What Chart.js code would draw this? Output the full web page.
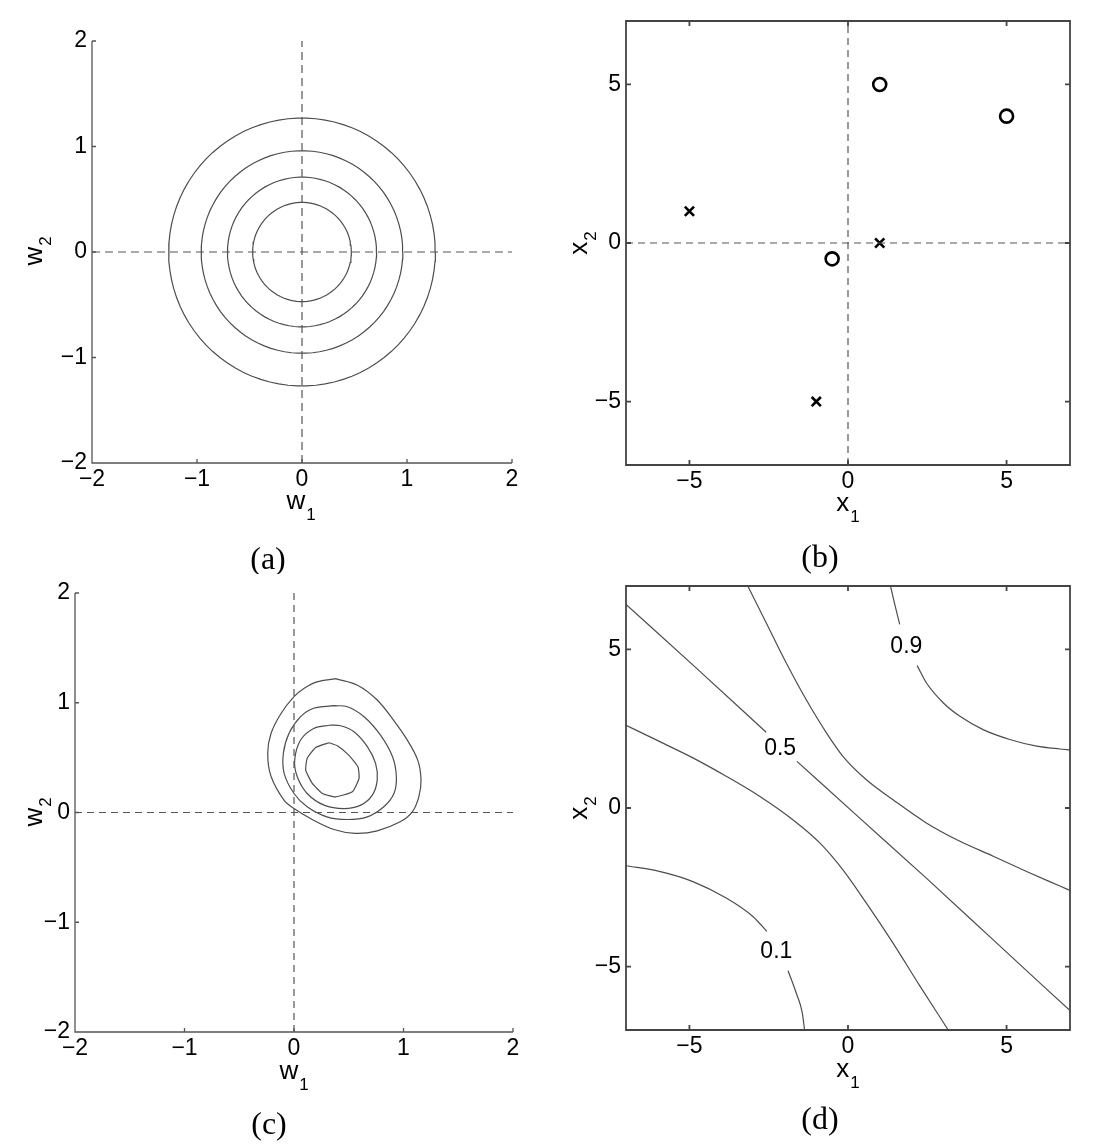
<!DOCTYPE html>
<html><head><meta charset="utf-8"><title>Prior, data, posterior and predictive distribution</title>
<script src="https://cdn.jsdelivr.net/npm/chart.js@4.4.1/dist/chart.umd.min.js"></script>
<style>
html,body{margin:0;padding:0;background:#fff;}
#fig{position:relative;width:1104px;height:1148px;background:#fff;overflow:hidden;}
#fig canvas{position:absolute;}
</style></head><body>
<div id="fig">
<canvas id="pa" width="552" height="574" style="left:0;top:0"></canvas>
<canvas id="pb" width="552" height="574" style="left:552px;top:0"></canvas>
<canvas id="pc" width="552" height="574" style="left:0;top:574px"></canvas>
<canvas id="pd" width="552" height="574" style="left:552px;top:574px"></canvas>
</div>
<script>
// ---------------- data ----------------
// (a) prior: circular contours (radii)
const wTicks = [-2, -1, 0, 1, 2];
const aContourRadii = [0.47, 0.71, 0.96, 1.27];
// (b) training data
const xTicks = [-5, 0, 5];
const bCircleX = [1, 5, -0.5];
const bCircleY = [5, 4, -0.5];
const bCrossX = [-5, 1, -1];
const bCrossY = [1, 0, -5];
// (c) posterior contours [w1, w2]
const cContour1 = [[0.38,1.22],[0.58,1.16],[0.76,1.025],[0.91,0.84],[1.035,0.66],[1.13,0.477],[1.16,0.295],[1.14,0.143],[1.08,0.006],[0.97,-0.085],[0.76,-0.167],[0.56,-0.19],[0.365,-0.155],[0.15,-0.055],[0,0.036],[-0.09,0.11],[-0.21,0.33],[-0.24,0.54],[-0.21,0.72],[-0.12,0.90],[0,1.055],[0.09,1.13],[0.21,1.19],[0.38,1.22]];
const cContour2 = [[0.365,0.973],[0.487,0.964],[0.64,0.873],[0.79,0.705],[0.90,0.508],[0.935,0.325],[0.913,0.173],[0.82,0.052],[0.67,-0.04],[0.487,-0.064],[0.30,-0.04],[0.12,0.052],[0,0.173],[-0.09,0.356],[-0.097,0.54],[-0.046,0.72],[0.06,0.873],[0.18,0.95],[0.365,0.973]];
const cContour3 = [[0.335,0.797],[0.426,0.79],[0.548,0.736],[0.67,0.60],[0.745,0.447],[0.76,0.295],[0.715,0.158],[0.61,0.067],[0.457,0.036],[0.274,0.067],[0.12,0.173],[0.03,0.325],[0.006,0.477],[0.06,0.66],[0.18,0.766],[0.335,0.797]];
const cContour4 = [[0.32,0.636],[0.396,0.608],[0.50,0.523],[0.584,0.417],[0.594,0.31],[0.533,0.189],[0.38,0.143],[0.26,0.173],[0.167,0.265],[0.107,0.386],[0.12,0.493],[0.198,0.593],[0.32,0.636]];
// (d) predictive contours [x1, x2] (gaps where labels sit)
const d09a = [[1.34,7],[1.48,6.4],[1.63,5.79]];
const d09b = [[2.18,4.49],[2.47,3.95],[3.0,3.32],[3.53,2.89],[4.26,2.47],[5.1,2.16],[5.95,1.95],[6.68,1.86],[7,1.83]];
const d07 = [[-3.16,7],[-2.58,5.84],[-1.95,4.58],[-1.32,3.42],[-0.68,2.37],[-0.16,1.63],[0.58,0.89],[1.42,0.26],[2.47,-0.47],[3.53,-1.05],[4.58,-1.52],[5.63,-2.0],[6.68,-2.46],[7,-2.6]];
const d05a = [[-7,6.42],[-4.79,4.42],[-2.58,2.39]];
const d05b = [[-1.61,1.47],[0.37,-0.32],[2.47,-2.21],[4.58,-4.16],[7,-6.39]];
const d03 = [[-7,2.61],[-5.95,2.1],[-4.89,1.58],[-3.84,1.0],[-2.79,0.37],[-1.74,-0.37],[-0.89,-1.1],[-0.16,-1.95],[0.58,-3.0],[1.42,-4.26],[2.26,-5.6],[3.16,-7]];
const d01a = [[-7,-1.82],[-5.95,-2.0],[-4.89,-2.32],[-3.84,-2.84],[-3.0,-3.42],[-2.56,-3.89]];
const d01b = [[-1.89,-5.13],[-1.63,-5.84],[-1.44,-6.47],[-1.37,-7]];
const dLabelText = ['0.9', '0.5', '0.1'];
const dLabelX = [1.84, -2.14, -2.26];
const dLabelY = [5.08, 1.87, -4.53];

// ---------------- style ----------------
const FONT = '"Liberation Sans", Arial, Helvetica, sans-serif';
const SERIF = '"Liberation Serif", "DejaVu Serif", serif';
const LINE = '#4d4d4d';
const TXT = '#000';
const AXW = 60, AXH = 40, CW = 552, CH = 574;

const pts = arr => arr.map(p => ({x: p[0], y: p[1]}));
const zip = (xs, ys) => xs.map((v, i) => ({x: v, y: ys[i]}));
const fmt = v => (v < 0 ? '\u2212' + Math.abs(v) : String(v));
function circlePts(r) {
  const out = [];
  for (let i = 0; i <= 90; i++) { const t = i / 90 * 2 * Math.PI; out.push([r * Math.cos(t), r * Math.sin(t)]); }
  return out;
}
function lineDS(points, extra) {
  return Object.assign({data: pts(points), showLine: true, borderColor: LINE, borderWidth: 1.2,
    pointRadius: 0, pointHoverRadius: 0, fill: false, tension: 0}, extra || {});
}
function dashDS(points, dash) {
  return lineDS(points, {borderDash: dash, borderColor: '#555', borderWidth: 1.2});
}

function scales(min, max, ticks) {
  const t = {autoSkip: false, maxRotation: 0, minRotation: 0, color: TXT,
             font: {family: FONT, size: 23}, callback: v => fmt(v)};
  const base = {type: 'linear', min: min, max: max, grid: {display: false, drawTicks: false},
                border: {display: false}, afterBuildTicks: s => { s.ticks = ticks.map(v => ({value: v})); }};
  return {
    x: Object.assign({}, base, {position: 'bottom', ticks: Object.assign({}, t, {padding: 3}),
        afterFit: s => { s.height = AXH; s.paddingLeft = 0; s.paddingRight = 0; }}),
    y: Object.assign({}, base, {position: 'left', ticks: Object.assign({}, t, {padding: 5}),
        afterFit: s => { s.width = AXW; s.paddingTop = 0; s.paddingBottom = 0; }})
  };
}

function drawSub(ctx, t, rotated) {
  const mainF = t.size + 'px ' + FONT, subF = t.subSize + 'px ' + FONT;
  ctx.font = mainF; const w1 = ctx.measureText(t.main).width;
  ctx.font = subF; const w2 = ctx.measureText(t.sub).width;
  const total = w1 + t.gap + w2;
  ctx.save();
  ctx.fillStyle = TXT; ctx.textAlign = 'left'; ctx.textBaseline = 'alphabetic';
  if (rotated) { ctx.translate(t.bx, t.cy); ctx.rotate(-Math.PI / 2); }
  else { ctx.translate(t.cx, t.by); }
  ctx.font = mainF; ctx.fillText(t.main, -total / 2, 0);
  ctx.font = subF; ctx.fillText(t.sub, -total / 2 + w1 + t.gap, t.drop);
  ctx.restore();
}

const decor = {
  id: 'decor',
  afterDraw(chart, args, o) {
    const ctx = chart.ctx, ca = chart.chartArea, xs = chart.scales.x, ys = chart.scales.y;
    ctx.save();
    ctx.strokeStyle = o.axisColor; ctx.lineWidth = o.axisWidth; ctx.setLineDash([]);
    ctx.beginPath();
    if (o.box) ctx.rect(ca.left, ca.top, ca.right - ca.left, ca.bottom - ca.top);
    else { ctx.moveTo(ca.left, ca.top); ctx.lineTo(ca.left, ca.bottom); ctx.lineTo(ca.right, ca.bottom); }
    const L = o.tickLen;
    xs.ticks.forEach(t => { const p = xs.getPixelForValue(t.value);
      ctx.moveTo(p, ca.bottom); ctx.lineTo(p, ca.bottom - L);
      if (o.box) { ctx.moveTo(p, ca.top); ctx.lineTo(p, ca.top + L); } });
    ys.ticks.forEach(t => { const p = ys.getPixelForValue(t.value);
      ctx.moveTo(ca.left, p); ctx.lineTo(ca.left + L, p);
      if (o.box) { ctx.moveTo(ca.right, p); ctx.lineTo(ca.right - L, p); } });
    ctx.stroke();
    if (o.labels) {
      ctx.fillStyle = TXT; ctx.font = '23px ' + FONT; ctx.textAlign = 'center'; ctx.textBaseline = 'middle';
      o.labels.text.forEach((s, i) => ctx.fillText(s, xs.getPixelForValue(o.labels.x[i]), ys.getPixelForValue(o.labels.y[i])));
    }
    drawSub(ctx, o.xTitle, false);
    drawSub(ctx, o.yTitle, true);
    ctx.fillStyle = TXT; ctx.font = '32px ' + SERIF; ctx.textAlign = 'center'; ctx.textBaseline = 'alphabetic';
    ctx.fillText(o.caption.text, o.caption.cx, o.caption.by);
    ctx.restore();
  }
};

function make(id, rect, sc, datasets, decorOpts) {
  return new Chart(document.getElementById(id), {
    type: 'scatter',
    data: {datasets: datasets},
    options: {
      responsive: false, animation: false, devicePixelRatio: 1, events: [],
      layout: {padding: {left: rect.L - AXW, top: rect.T, right: CW - rect.R, bottom: CH - rect.B - AXH}},
      scales: sc,
      plugins: {legend: {display: false}, tooltip: {enabled: false}, decor: decorOpts}
    },
    plugins: [decor]
  });
}

const ttl = (main, sub, extra) => Object.assign({main: main, sub: sub, size: 26, subSize: 17, gap: 1, drop: 11}, extra);

// (a)
make('pa', {L: 92, T: 41, R: 512, B: 463}, scales(-2, 2, wTicks),
  [dashDS([[0, -2], [0, 2]], [8, 5]), dashDS([[-2, 0], [2, 0]], [8, 5])]
    .concat(aContourRadii.map(r => lineDS(circlePts(r)))),
  {box: false, axisColor: '#555', axisWidth: 1.3, tickLen: 4,
   xTitle: ttl('w', '1', {cx: 301, by: 509}), yTitle: ttl('w', '2', {bx: 42, cy: 251, drop: 9}),
   caption: {text: '(a)', cx: 268, by: 569}});

// (b)
make('pb', {L: 74, T: 21, R: 518, B: 465}, scales(-7, 7, xTicks),
  [dashDS([[0, -7], [0, 7]], [7, 5]), dashDS([[-7, 0], [7, 0]], [7, 5]),
   {data: zip(bCircleX, bCircleY), pointStyle: 'circle', pointRadius: 6.5, borderWidth: 2.6,
    borderColor: '#000', backgroundColor: 'rgba(0,0,0,0)', pointHoverRadius: 6.5},
   {data: zip(bCrossX, bCrossY), pointStyle: 'crossRot', pointRadius: 6.5, borderWidth: 2.6,
    borderColor: '#000', backgroundColor: 'rgba(0,0,0,0)', pointHoverRadius: 6.5}],
  {box: true, axisColor: '#444', axisWidth: 1.8, tickLen: 5,
   xTitle: ttl('x', '1', {cx: 296, by: 511}), yTitle: ttl('x', '2', {bx: 35, cy: 243, drop: 9}),
   caption: {text: '(b)', cx: 268, by: 567}});

// (c)
make('pc', {L: 75, T: 19, R: 513, B: 458}, scales(-2, 2, wTicks),
  [dashDS([[0, -2], [0, 2]], [7, 5]), dashDS([[-2, 0], [2, 0]], [7, 5]),
   lineDS(cContour1, {tension: 0.35}), lineDS(cContour2, {tension: 0.35}),
   lineDS(cContour3, {tension: 0.35}), lineDS(cContour4, {tension: 0.15})],
  {box: false, axisColor: '#555', axisWidth: 1.3, tickLen: 4,
   xTitle: ttl('w', '1', {cx: 294, by: 505}), yTitle: ttl('w', '2', {bx: 42, cy: 238, drop: 9}),
   caption: {text: '(c)', cx: 269, by: 560}});

// (d)
const mono = {cubicInterpolationMode: 'monotone'};
make('pd', {L: 74, T: 12, R: 518, B: 456}, scales(-7, 7, xTicks),
  [lineDS(d09a, mono), lineDS(d09b, mono), lineDS(d07, mono), lineDS(d05a, mono), lineDS(d05b, mono),
   lineDS(d03, mono), lineDS(d01a, mono), lineDS(d01b, mono)],
  {box: true, axisColor: '#444', axisWidth: 1.8, tickLen: 5,
   labels: {text: dLabelText, x: dLabelX, y: dLabelY},
   xTitle: ttl('x', '1', {cx: 296, by: 503}), yTitle: ttl('x', '2', {bx: 35, cy: 234, drop: 9}),
   caption: {text: '(d)', cx: 268, by: 555}});
</script>
</body></html>
